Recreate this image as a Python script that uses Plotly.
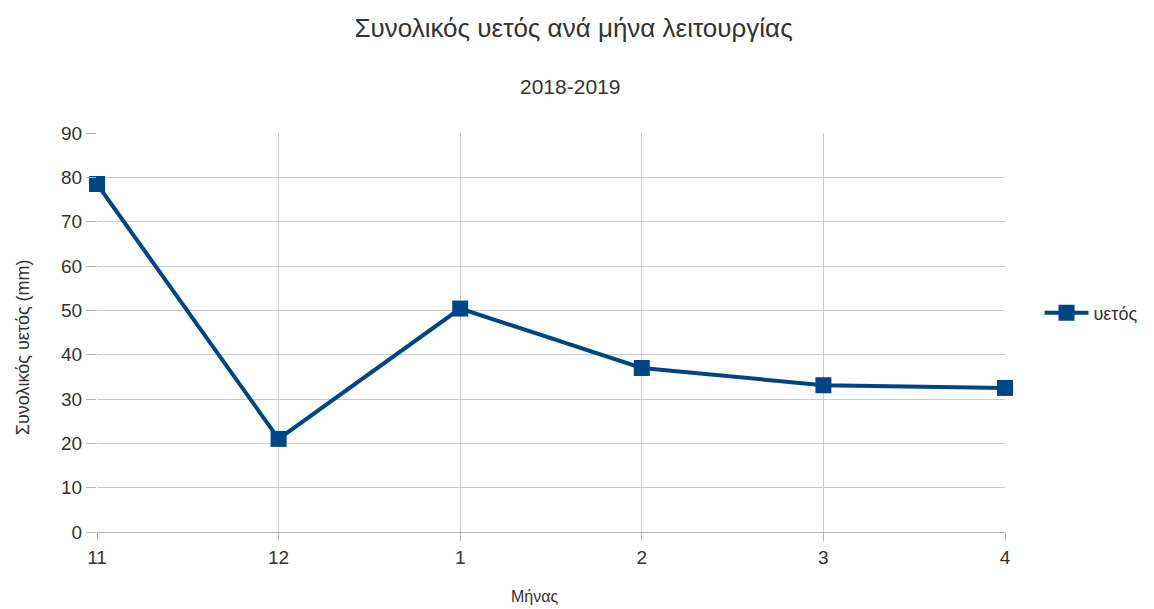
import plotly.graph_objects as go

# Monthly rainfall totals for the 2018-2019 operating season
months = ["11", "12", "1", "2", "3", "4"]
rainfall_mm = [78.5, 21.0, 50.4, 37.0, 33.1, 32.5]

series_name = "υετός"
title_text = "Συνολικός υετός ανά μήνα λειτουργίας"
subtitle_text = "2018-2019"
x_title = "Μήνας"
y_title = "Συνολικός υετός (mm)"

line_color = "#004586"
grid_color = "#cccccc"
text_color = "#333333"
font_family = "Liberation Sans, Arial, sans-serif"

fig = go.Figure()
fig.add_trace(go.Scatter(
    x=months,
    y=rainfall_mm,
    mode="lines+markers",
    name=series_name,
    line=dict(color=line_color, width=4),
    marker=dict(symbol="square", size=16, color=line_color),
    cliponaxis=False,
))

fig.update_layout(
    width=1154,
    height=609,
    margin=dict(l=97, r=147, t=133, b=77),
    paper_bgcolor="white",
    plot_bgcolor="white",
    font=dict(family=font_family, color=text_color, size=18),
    title=dict(
        text=title_text,
        x=0.497, xanchor="center",
        y=1 - 28 / 609, yanchor="middle",
        font=dict(size=26, color=text_color, family=font_family),
    ),
    showlegend=True,
    legend=dict(
        x=1.038, xanchor="left",
        y=0.549, yanchor="middle",
        font=dict(size=18, color=text_color),
        bgcolor="rgba(0,0,0,0)",
        itemwidth=44,
    ),
    annotations=[
        dict(
            text=subtitle_text,
            xref="paper", yref="paper",
            x=(571 - 97) / 910, y=(532 - 87) / 399,
            xanchor="center", yanchor="middle",
            showarrow=False,
            font=dict(size=21, color=text_color),
        ),
        dict(
            text=x_title,
            xref="paper", yref="paper",
            x=(535 - 97) / 910, y=(532 - 596) / 399,
            xanchor="center", yanchor="middle",
            showarrow=False,
            font=dict(size=16, color=text_color),
        ),
        dict(
            text=y_title,
            xref="paper", yref="paper",
            x=(23 - 97) / 910, y=(532 - 347) / 399,
            xanchor="center", yanchor="middle",
            textangle=-90,
            showarrow=False,
            font=dict(size=18, color=text_color),
        ),
    ],
)

fig.update_xaxes(
    type="category",
    range=[0, len(months) - 1],
    showgrid=True,
    gridcolor=grid_color,
    gridwidth=1,
    ticks="outside",
    ticklen=8,
    tickcolor="#b3b3b3",
    showline=False,
    zeroline=False,
    tickfont=dict(size=19, color=text_color),
)

fig.update_yaxes(
    range=[0, 90],
    dtick=10,
    showgrid=True,
    gridcolor=grid_color,
    gridwidth=1,
    ticks="outside",
    ticklen=10,
    tickcolor="#b3b3b3",
    showline=False,
    zeroline=True,
    zerolinecolor="#b3b3b3",
    zerolinewidth=1,
    tickfont=dict(size=19, color=text_color),
)

fig.write_html("out.html")
